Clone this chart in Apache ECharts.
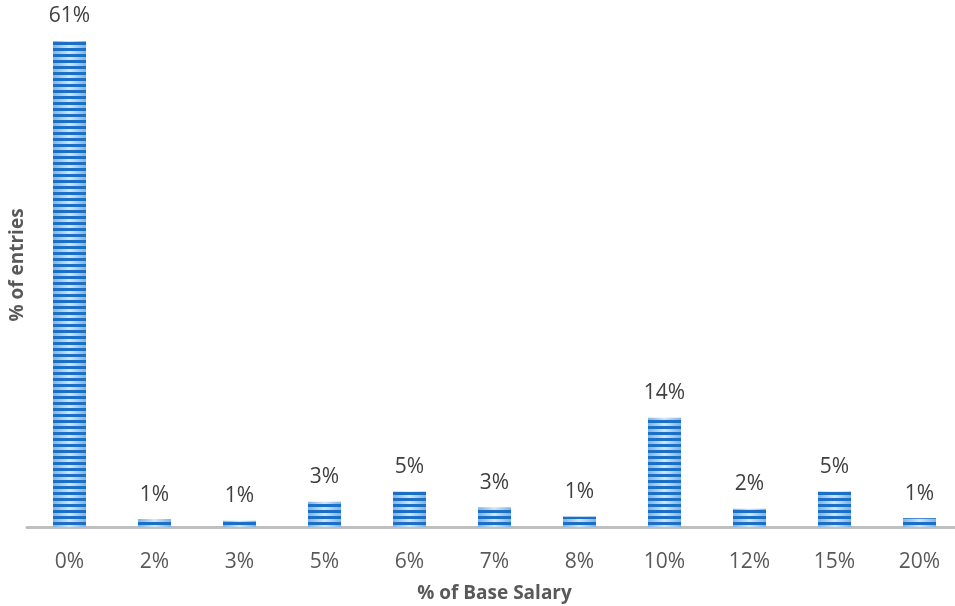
<!DOCTYPE html>
<html>
<head>
<meta charset="utf-8">
<script src="https://cdn.jsdelivr.net/npm/echarts@6/dist/echarts.min.js"></script>
<style>
  html, body { margin: 0; padding: 0; background: #fff; }
  #chart { width: 955px; height: 606px; }
</style>
</head>
<body>
<div id="chart"></div>
<script>
  // % of base salary buckets
  var categories = ['0%', '2%', '3%', '5%', '6%', '7%', '8%', '10%', '12%', '15%', '20%'];
  // share of entries
  var shares = [61.4, 1.0, 0.8, 3.2, 4.5, 2.5, 1.3, 13.8, 2.3, 4.5, 1.1];

  var chart = echarts.init(document.getElementById('chart'));

  var option = {
    animation: false,
    aria: { enabled: true, decal: { show: true } },
    grid: { left: 27, right: -7, top: 41, bottom: 79, outerBoundsMode: 'none' },
    xAxis: {
      type: 'category',
      data: categories,
      name: '% of Base Salary',
      nameLocation: 'middle',
      nameGap: 57,
      nameTextStyle: { fontFamily: 'Open Sans', fontSize: 19, fontWeight: 'bold', color: '#595959' },
      axisLine: { lineStyle: { color: '#bfbfbf', width: 3 } },
      axisTick: { show: false },
      axisLabel: { fontFamily: 'Open Sans', fontSize: 21, color: '#595959', margin: 25 }
    },
    yAxis: {
      type: 'value',
      min: 0,
      max: 61.4,
      name: '% of entries',
      nameLocation: 'middle',
      nameGap: 0,
      nameTextStyle: {
        fontFamily: 'Open Sans', fontSize: 19, fontWeight: 'bold', color: '#595959',
        padding: [0, 0, 0, 38]
      },
      axisLine: { show: false },
      axisTick: { show: false },
      axisLabel: { show: false },
      splitLine: { show: false }
    },
    series: [{
      type: 'bar',
      data: shares,
      barWidth: 33,
      itemStyle: {
        color: new echarts.graphic.LinearGradient(0, 0, 1, 0, [
          { offset: 0, color: '#7fb2e3' },
          { offset: 0.5, color: '#d3e5f6' },
          { offset: 1, color: '#7fb2e3' }
        ]),
        decal: {
          symbol: 'rect',
          symbolSize: 1,
          dashArrayX: [1, 0],
          dashArrayY: [3, 3],
          rotation: 0,
          color: '#1a6fc6'
        }
      },
      label: {
        show: true,
        position: 'top',
        distance: 14,
        fontFamily: 'Open Sans',
        fontSize: 21,
        color: '#404040',
        formatter: function (p) { return Math.round(p.value) + '%'; }
      }
    }]
  };

  chart.setOption(option);
</script>
</body>
</html>
